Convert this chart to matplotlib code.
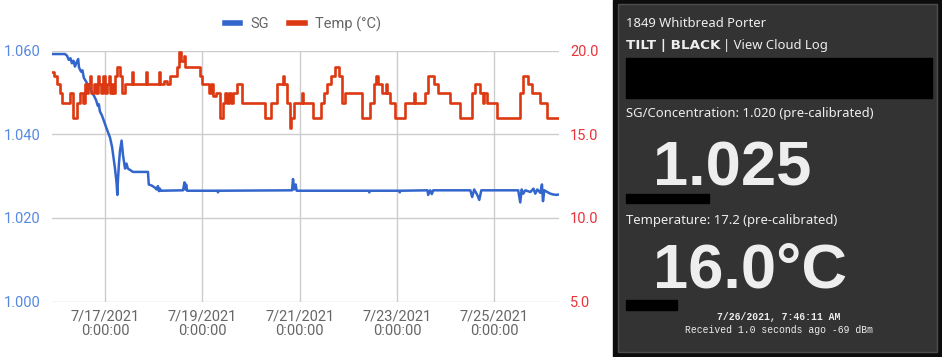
import matplotlib
matplotlib.use('Agg')
import pandas as pd
import matplotlib.pyplot as plt
from matplotlib.patches import Rectangle
from matplotlib.lines import Line2D

plt.rcParams['font.family'] = ['Roboto', 'DejaVu Sans']

base = pd.Timestamp('2021-07-17 00:00')

# specific gravity, hours from 7/17 0:00
sg_hours = [-26.1, -19.7, -18.7, -17.8, -17.0, -16.3, -15.5, -14.8, -14.1, -13.2,
            -12.8, -11.8, -11.1, -10.4, -9.4, -8.4, -7.4, -6.4, -5.4, -4.4,
            -3.5, -3.0, -2.5, -1.5, -0.5, 0.5, 1.5, 2.5, 3.5, 4.2,
            4.9, 5.7, 6.1, 6.4, 6.9, 7.4, 8.2, 8.9, 9.9, 10.6,
            11.3, 12.3, 13.8, 21.2, 21.6, 23.2, 24.7, 25.4, 26.1, 26.6,
            27.1, 27.6, 38.5, 39.2, 39.7, 40.0, 40.5, 55.5, 55.7, 56.0,
            92.2, 92.7, 93.2, 94.0, 94.5, 130.0, 130.3, 130.6, 145.0, 145.3,
            145.6, 159.0, 159.3, 160.3, 161.1, 161.8, 180.1, 181.0, 182.0, 183.5,
            184.5, 185.5, 203.7, 204.7, 205.4, 206.2, 207.2, 209.7, 211.2, 212.1,
            213.1, 214.6, 215.4, 215.9, 216.6, 218.0, 219.5, 221.0, 222.5, 223.8]
sg_values = [1.0592, 1.0592, 1.0588, 1.0578, 1.0582, 1.0570, 1.0576, 1.0562, 1.0571, 1.0580,
             1.0560, 1.0550, 1.0553, 1.0535, 1.0527, 1.0518, 1.0510, 1.0500, 1.0492, 1.0482,
             1.0468, 1.0472, 1.0455, 1.0445, 1.0432, 1.0418, 1.0405, 1.0392, 1.0370, 1.0345,
             1.0320, 1.0285, 1.0255, 1.0290, 1.0330, 1.0360, 1.0385, 1.0350, 1.0318, 1.0330,
             1.0318, 1.0315, 1.0310, 1.0310, 1.0280, 1.0277, 1.0272, 1.0268, 1.0276, 1.0264,
             1.0270, 1.0265, 1.0266, 1.0285, 1.0268, 1.0280, 1.0265, 1.0265, 1.0261, 1.0265,
             1.0266, 1.0293, 1.0268, 1.0280, 1.0265, 1.0265, 1.0261, 1.0265, 1.0265, 1.0261,
             1.0265, 1.0266, 1.0255, 1.0266, 1.0257, 1.0266, 1.0266, 1.0250, 1.0268, 1.0255,
             1.0243, 1.0266, 1.0266, 1.0237, 1.0268, 1.0258, 1.0266, 1.0262, 1.0270, 1.0258,
             1.0268, 1.0260, 1.0280, 1.0240, 1.0266, 1.0262, 1.0258, 1.0256, 1.0255, 1.0256]

# temperature (C), value holds from each time until the next
temp_hours = [-26.1, -25.0, -23.7, -22.2, -21.4, -17.3, -15.8, -13.8, -12.3, -10.9,
              -9.9, -9.0, -8.2, -7.2, -6.7, -5.5, -4.4, -3.5, -2.9, -1.8,
              -0.8, -0.2, 0.8, 1.8, 2.4, 3.4, 4.2, 4.9, 6.0, 7.5,
              8.2, 9.9, 13.5, 14.0, 20.4, 20.9, 26.7, 27.1, 29.0, 30.5,
              32.1, 35.4, 36.5, 37.5, 38.8, 39.3, 46.9, 47.9, 51.5, 52.5,
              53.3, 54.5, 56.7, 58.3, 59.2, 60.2, 61.3, 62.3, 63.3, 65.3,
              67.6, 78.9, 82.0, 84.7, 87.6, 88.2, 89.6, 91.0, 91.8, 93.2,
              97.3, 97.8, 102.5, 106.6, 107.9, 109.6, 111.3, 113.5, 115.2, 116.8,
              118.4, 126.6, 130.7, 132.4, 133.6, 134.8, 136.5, 138.3, 138.8, 140.6,
              143.1, 148.0, 152.3, 152.9, 157.9, 159.3, 162.0, 164.3, 170.2, 175.1,
              181.0, 182.5, 185.0, 186.5, 187.0, 188.4, 193.4, 204.7, 206.2, 208.7,
              210.6, 214.6, 218.0, 223.8]
temp_values = [18.7, 18.5, 18.0, 17.45, 16.9, 17.45, 16.0, 16.9, 17.45, 16.9,
               18.0, 17.45, 18.0, 18.5, 17.45, 18.0, 17.45, 18.5, 18.0, 17.45,
               18.5, 17.45, 18.0, 18.5, 17.45, 18.0, 17.45, 18.5, 19.0, 18.5,
               17.45, 18.0, 18.7, 18.0, 18.7, 18.0, 18.7, 18.0, 18.2, 18.0,
               18.5, 19.0, 19.9, 19.4, 19.7, 19.0, 18.5, 18.0, 17.45, 18.0,
               17.3, 17.45, 16.0, 16.9, 17.45, 16.9, 17.45, 16.9, 17.45, 18.0,
               16.9, 16.0, 16.9, 18.0, 18.5, 18.0, 16.9, 15.4, 16.0, 16.9,
               17.45, 16.9, 16.0, 16.9, 17.45, 18.0, 18.5, 19.0, 18.5, 16.9,
               17.45, 16.0, 16.9, 18.0, 18.5, 18.0, 17.45, 18.0, 17.45, 16.9,
               16.0, 16.9, 17.45, 16.9, 17.45, 18.5, 18.0, 17.45, 16.9, 16.0,
               17.45, 18.0, 17.45, 16.9, 17.45, 16.9, 16.0, 17.45, 18.5, 18.0,
               17.45, 16.9, 16.0, 16.0]

x_ticks = ['2021-07-17', '2021-07-19', '2021-07-21', '2021-07-23', '2021-07-25']
sg_ticks = [1.000, 1.020, 1.040, 1.060]
temp_ticks = [5, 10, 15, 20]

beer_name = '1849 Whitbread Porter'
sg_line = 'SG/Concentration: 1.020 (pre-calibrated)'
sg_now = '1.025'
temp_line = 'Temperature: 17.2 (pre-calibrated)'
temp_now = '16.0\u00b0C'
stamp = '7/26/2021, 7:46:11 AM'
received = 'Received 1.0 seconds ago -69 dBm'

BLUE = '#3366cc'
RED = '#dc3912'

sg_time = base + pd.to_timedelta(sg_hours, unit='h')
temp_time = base + pd.to_timedelta(temp_hours, unit='h')

fig = plt.figure(figsize=(9.42, 3.57), dpi=100)
ax = fig.add_axes([52 / 942, 55.5 / 357, 507 / 942, 250.8 / 357])
ax.plot(sg_time, sg_values, color=BLUE, lw=1.8, zorder=3)
ax.set_xlim(sg_time[0], sg_time[-1])
ax.set_ylim(1.0, 1.06)
ax.set_yticks(sg_ticks)
ax.set_yticklabels(['%.3f' % v for v in sg_ticks])
ticks = pd.to_datetime(x_ticks)
ax.set_xticks(ticks)
ax.set_xticklabels(['%d/%d/%d\n0:00:00' % (t.month, t.day, t.year) for t in ticks],
                   linespacing=1.0)
ax.grid(True, color='#cccccc', lw=1)
ax.set_axisbelow(True)
ax.tick_params(axis='y', length=0, pad=8, labelsize=10.5, labelcolor='#5588e0')
ax.tick_params(axis='x', length=0, pad=6, labelsize=10.5, labelcolor='#666666')
for s in ax.spines.values():
    s.set_visible(False)

ax2 = ax.twinx()
ax2.plot(temp_time, temp_values, color=RED, lw=1.9, drawstyle='steps-post')
ax2.set_ylim(5, 20)
ax2.set_yticks(temp_ticks)
ax2.set_yticklabels(['%.1f' % v for v in temp_ticks])
ax2.tick_params(axis='y', length=0, pad=8, labelsize=10.5, labelcolor='#e8333a')
for s in ax2.spines.values():
    s.set_visible(False)

handles = [Line2D([], [], color=BLUE, lw=4), Line2D([], [], color=RED, lw=4)]
fig.legend(handles, ['SG', 'Temp (\u00b0C)'], ncol=2, frameon=False,
           loc='center', bbox_to_anchor=(303 / 942, 1 - 24 / 357),
           fontsize=10.5, labelcolor='#666666', handlelength=1.05,
           handletextpad=0.7, columnspacing=1.4)

# status panel on the right, in pixel units
px = fig.add_axes([0, 0, 1, 1])
px.set_xlim(0, 942)
px.set_ylim(357, 0)
px.axis('off')
px.add_patch(Rectangle((613, 0), 329, 357, color='#0d0d0d'))
px.add_patch(Rectangle((618, 4), 319, 348, facecolor='#333333',
                       edgecolor='#4d4d4d', lw=1))
px.add_patch(Rectangle((626, 58.3), 306, 39.4, color='black'))
px.add_patch(Rectangle((626, 194), 83, 9.3, color='black'))
px.add_patch(Rectangle((626, 300), 51, 10, color='black'))

txt = dict(color='#eeeeee', family='Noto Sans', va='baseline')
big = dict(color='#eeeeee', family='Liberation Sans', fontweight='bold',
           fontsize=45.5, va='baseline')
px.text(626, 27, beer_name, fontsize=9.4, **txt)
px.text(626, 49.5, 'TILT | BLACK', fontsize=9.7, color='#eeeeee',
        family='DejaVu Sans', fontweight='bold', va='baseline')
px.text(723, 49.5, '| View Cloud Log', fontsize=9.4, **txt)
px.text(626, 117, sg_line, fontsize=9.4, **txt)
px.text(653, 185, sg_now, **big)
px.text(626, 224, temp_line, fontsize=9.4, **txt)
px.text(653, 288, temp_now, **big)
px.text(779, 320, stamp, fontsize=7, family='Liberation Mono', fontweight='bold',
        color='#eeeeee', ha='center', va='baseline')
px.text(779, 333, received, fontsize=7, family='Liberation Mono',
        color='#eeeeee', ha='center', va='baseline')

fig.savefig('out.png', dpi=100, facecolor='white')
